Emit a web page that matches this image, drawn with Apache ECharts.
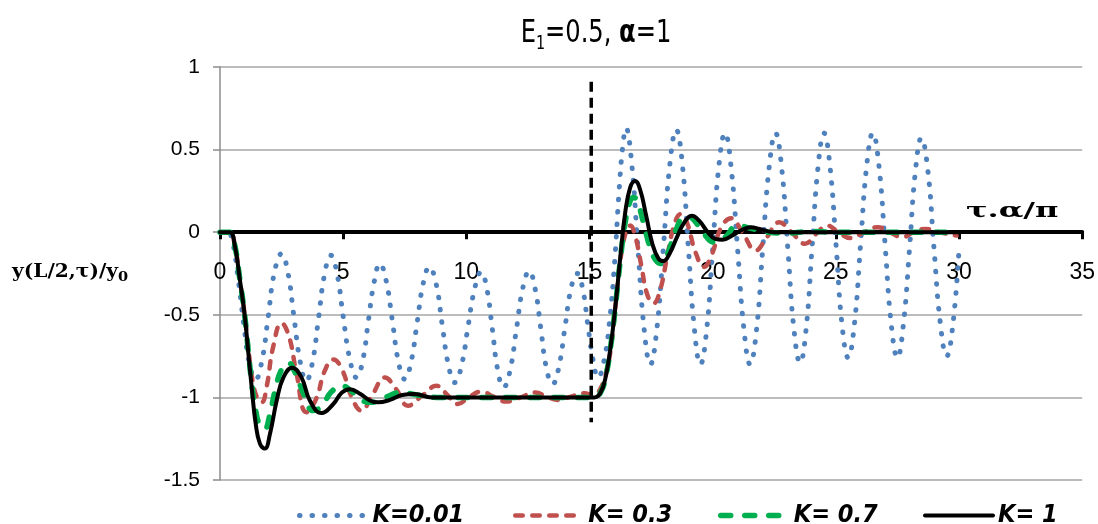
<!DOCTYPE html>
<html>
<head>
<meta charset="utf-8">
<script src="https://cdn.jsdelivr.net/npm/echarts@6/dist/echarts.min.js"></script>
<style>
  html, body { margin: 0; padding: 0; background: #fff; }
  #chart { width: 1098px; height: 524px; }
</style>
</head>
<body>
<div id="chart"></div>
<script>
// Series names shown in the legend
const seriesNames = ['K=0.01', 'K= 0.3', 'K= 0.7', 'K= 1'];

// Axis ranges / tick spacing
const xRange = [0, 35, 5];
const yRange = [-1.5, 1, 0.5];

// Time of the load switch and vertical extent of its marker line
const switchTau = 15.07;
const switchSpan = [0.91, -1.15];

// K = 0.01 : [tau, y]
const k001 = [
  [0, 0], [0.3, 0], [0.5, -0.05], [0.75, -0.3], [1.0, -0.6], [1.2, -0.8], [1.45, -0.89],
  [1.7, -0.78], [1.95, -0.52], [2.2, -0.25], [2.5, -0.13], [2.75, -0.24], [3.0, -0.51], [3.25, -0.78], [3.5, -0.9],
  [3.75, -0.79], [4.0, -0.52], [4.25, -0.25], [4.5, -0.14], [4.75, -0.25], [5.0, -0.51], [5.27, -0.77], [5.54, -0.88],
  [5.79, -0.78], [6.02, -0.54], [6.26, -0.3], [6.49, -0.19], [6.74, -0.29], [7.0, -0.54], [7.25, -0.79], [7.5, -0.89],
  [7.75, -0.79], [8.0, -0.55], [8.25, -0.31], [8.5, -0.21], [8.77, -0.31], [9.02, -0.56], [9.28, -0.81], [9.53, -0.91],
  [9.8, -0.81], [10.07, -0.57], [10.34, -0.34], [10.6, -0.24], [10.83, -0.34], [11.05, -0.58], [11.28, -0.84], [11.51, -0.94],
  [11.77, -0.84], [12.03, -0.59], [12.29, -0.34], [12.55, -0.235], [12.79, -0.34], [13.02, -0.58], [13.26, -0.83], [13.5, -0.92],
  [13.75, -0.82], [14.0, -0.58], [14.25, -0.34], [14.5, -0.25], [14.72, -0.34], [14.93, -0.56], [15.14, -0.77], [15.35, -0.88],
  [15.6, -0.77], [15.82, -0.53], [16.02, -0.18], [16.2, 0.25], [16.35, 0.52], [16.48, 0.63],
  [16.71, 0.42], [16.96, -0.085], [17.22, -0.59], [17.47, -0.8],
  [17.73, -0.59], [18.0, -0.09], [18.26, 0.41], [18.52, 0.62],
  [18.77, 0.41], [19.01, -0.09], [19.26, -0.59], [19.5, -0.8],
  [19.75, -0.6], [20.0, -0.1], [20.25, 0.4], [20.5, 0.6],
  [20.75, 0.39], [21.01, -0.1], [21.27, -0.59], [21.52, -0.8],
  [21.78, -0.59], [22.03, -0.1], [22.29, 0.39], [22.55, 0.6],
  [22.8, 0.39], [23.05, -0.1], [23.3, -0.59], [23.55, -0.79],
  [23.79, -0.59], [24.03, -0.1], [24.28, 0.4], [24.52, 0.6],
  [24.76, 0.4], [25.01, -0.08], [25.25, -0.56], [25.5, -0.76],
  [25.75, -0.56], [26.0, -0.08], [26.25, 0.4], [26.5, 0.6],
  [26.75, 0.4], [27.0, -0.08], [27.25, -0.56], [27.5, -0.76],
  [27.74, -0.56], [27.99, -0.1], [28.23, 0.37], [28.47, 0.57],
  [28.73, 0.38], [28.98, -0.09], [29.24, -0.55], [29.5, -0.75],
  [29.75, -0.56], [30.0, -0.1]
];

// K = 0.3 : [tau, y]
const k03 = [
  [0, 0], [0.4, 0], [0.6, -0.08], [0.8, -0.28], [1.0, -0.5], [1.15, -0.7], [1.3, -0.88], [1.5, -1.0],
  [1.69, -1.03], [1.9, -0.93], [2.15, -0.7], [2.5, -0.55], [2.8, -0.63], [3.1, -0.85], [3.51, -1.09],
  [3.9, -1.01], [4.25, -0.84], [4.6, -0.77], [4.95, -0.83], [5.35, -1.0], [5.74, -1.08],
  [6.2, -0.98], [6.69, -0.88], [7.15, -0.95], [7.63, -1.05], [8.2, -0.99], [8.8, -0.93],
  [9.2, -0.98], [9.65, -1.04], [10.1, -1.0], [10.6, -0.965], [11.1, -0.995], [11.6, -1.025],
  [12.2, -1.0], [12.8, -0.97], [13.25, -0.995], [13.7, -1.015], [14.25, -0.995], [14.8, -0.975],
  [15.1, -0.985], [15.3, -0.975], [15.5, -0.93], [15.7, -0.84], [15.9, -0.66], [16.1, -0.38],
  [16.3, -0.12], [16.5, 0.01], [16.65, 0.04], [16.85, -0.02], [17.1, -0.2], [17.35, -0.38], [17.6, -0.43],
  [17.85, -0.36], [18.15, -0.15], [18.45, 0.05], [18.7, 0.11], [18.95, 0.06], [19.3, -0.12], [19.65, -0.21],
  [19.95, -0.14], [20.35, 0.03], [20.75, 0.085], [21.2, 0.0], [21.75, -0.11], [22.2, -0.03], [22.7, 0.06],
  [23.2, 0.0], [23.75, -0.07], [24.2, -0.01], [24.65, 0.04], [25.1, 0.0], [25.6, -0.035], [26.15, 0.0],
  [26.7, 0.03], [27.2, 0.0], [27.7, -0.03], [28.15, 0.0], [28.65, 0.02], [29.2, 0.0], [29.9, -0.02]
];

// K = 0.7 : [tau, y]
const k07 = [
  [0, 0], [0.4, 0], [0.6, -0.08], [0.8, -0.28], [1.0, -0.5], [1.15, -0.72], [1.3, -0.93], [1.45, -1.08],
  [1.62, -1.17], [1.82, -1.19], [2.0, -1.12], [2.25, -0.95], [2.5, -0.83], [2.77, -0.79], [3.05, -0.85],
  [3.4, -0.98], [3.78, -1.08], [4.15, -1.05], [4.5, -0.97], [4.93, -0.93], [5.4, -0.97], [5.8, -1.02],
  [6.15, -1.03], [6.7, -1.0], [7.36, -0.97], [8.0, -0.985], [8.8, -1.0], [12.0, -1.0], [15.2, -1.0],
  [15.45, -0.97], [15.65, -0.88], [15.85, -0.7], [16.05, -0.45], [16.25, -0.17], [16.45, 0.06],
  [16.65, 0.19], [16.81, 0.21], [17.0, 0.16], [17.25, 0.02], [17.5, -0.11], [17.75, -0.18], [17.96, -0.19],
  [18.2, -0.12], [18.5, 0.01], [18.9, 0.1], [19.2, 0.08], [19.6, 0.0], [20.05, -0.06], [20.5, -0.03],
  [21.0, 0.04], [21.5, 0.025], [22.2, 0.0], [23.0, -0.005], [24.0, 0.005], [25.0, 0.0], [30.0, 0.0]
];

// K = 1 : [tau, y]
const k1 = [
  [0, 0], [0.4, 0], [0.6, -0.08], [0.8, -0.28], [1.0, -0.5], [1.15, -0.73], [1.3, -0.96], [1.45, -1.16],
  [1.62, -1.28], [1.82, -1.31], [2.03, -1.22], [2.3, -1.02], [2.57, -0.88], [2.93, -0.82], [3.31, -0.88],
  [3.65, -1.02], [4.12, -1.095], [4.6, -1.04], [4.95, -0.97], [5.27, -0.95], [5.7, -0.98], [6.1, -1.02],
  [6.42, -1.03], [6.9, -1.015], [7.4, -0.985], [7.9, -0.98], [8.6, -1.0], [12.0, -1.0], [15.2, -1.0],
  [15.45, -0.97], [15.65, -0.88], [15.85, -0.7], [16.05, -0.45], [16.25, -0.15], [16.45, 0.12],
  [16.65, 0.27], [16.85, 0.31], [17.05, 0.26], [17.3, 0.1], [17.55, -0.07], [17.8, -0.16], [18.0, -0.175],
  [18.25, -0.13], [18.55, -0.03], [18.85, 0.06], [19.15, 0.1], [19.45, 0.07], [19.8, 0.0], [20.1, -0.04],
  [20.4, -0.045], [20.8, -0.02], [21.2, 0.015], [21.55, 0.03], [21.9, 0.02], [22.5, 0.0], [30.0, 0.0]
];

const colors = ['#4F81BD', '#C0504D', '#00B050', '#000000'];
const legendLeft = [292, 508, 713, 918];

const narrow = "'Liberation Sans Narrow','DejaVu Sans Condensed','Arial Narrow',sans-serif";
const plain = "'Liberation Sans',Arial,sans-serif";
const serif = "'DejaVu Serif','Liberation Serif',serif";

const lineStyles = [
  { color: colors[0], width: 5, type: [0.5, 12], cap: 'round' },
  { color: colors[1], width: 4.5, type: [7.5, 9.5], cap: 'round' },
  { color: colors[2], width: 5.5, type: [10, 14], cap: 'round' },
  { color: colors[3], width: 4, type: 'solid', cap: 'round' }
];
const seriesData = [k001, k03, k07, k1];

const chart = echarts.init(document.getElementById('chart'), null, { renderer: 'canvas' });

const series = seriesData.map((d, i) => ({
  name: seriesNames[i],
  type: 'line',
  data: d,
  symbol: 'none',
  smooth: 0.45,
  lineStyle: lineStyles[i],
  itemStyle: { color: colors[i] },
  z: 2 + i,
  animation: false
}));

// vertical dashed marker at the switching time
series.push({
  name: 'switch',
  type: 'line',
  data: [[switchTau, switchSpan[0]], [switchTau, switchSpan[1]]],
  symbol: 'none',
  lineStyle: { color: '#000', width: 3.5, type: [10, 6] },
  silent: true,
  z: 10,
  animation: false
});

const legends = seriesNames.map((n, i) => ({
  data: [n],
  left: legendLeft[i],
  top: 498,
  itemWidth: 68,
  itemHeight: 14,
  itemGap: 0,
  itemStyle: { opacity: 0, borderWidth: 0 },
  lineStyle: { width: lineStyles[i].width },
  textStyle: {
    fontFamily: narrow, fontSize: 25, fontWeight: 'bold', fontStyle: 'italic', color: '#000'
  }
}));

const option = {
  animation: false,
  backgroundColor: '#fff',
  grid: { left: 220, right: 13, top: 67, bottom: 44 },
  xAxis: {
    type: 'value',
    min: xRange[0], max: xRange[1], interval: xRange[2],
    axisLine: { onZero: true, lineStyle: { color: '#000', width: 4 } },
    axisTick: { show: true, length: 7, lineStyle: { color: '#000', width: 3 } },
    // tick labels sit just under the zero line
    axisLabel: { margin: -219, fontSize: 23, color: '#000', fontFamily: plain },
    splitLine: { show: false }
  },
  yAxis: {
    type: 'value',
    min: yRange[0], max: yRange[1], interval: yRange[2],
    axisLine: { show: true, onZero: false, lineStyle: { color: '#8c8c8c', width: 1.5 } },
    axisTick: { show: true, length: 7, lineStyle: { color: '#8c8c8c', width: 1.5 } },
    axisLabel: { margin: 20, fontSize: 21, color: '#000', fontFamily: plain },
    splitLine: { show: true, lineStyle: { color: '#a6a6a6', width: 1.5 } }
  },
  legend: legends,
  series: series,
  graphic: [
    {
      type: 'text', x: 596, y: 34, z: 20, scaleX: 0.84,
      style: {
        text: '{t|E}{s|1}{t|=0.5, }{a|α}{t|=1}',
        align: 'center', verticalAlign: 'middle',
        rich: {
          t: { fontFamily: narrow, fontSize: 32, lineHeight: 40, fill: '#000' },
          a: { fontFamily: narrow, fontSize: 32, lineHeight: 40, fontWeight: 'bold', fill: '#000' },
          s: { fontFamily: narrow, fontSize: 19, lineHeight: 19, verticalAlign: 'bottom', fill: '#000' }
        }
      }
    },
    {
      type: 'text', x: 12, y: 272, z: 20, scaleX: 1.12,
      style: {
        text: '{n|y(L/2,τ)/y}{s|0}',
        align: 'left', verticalAlign: 'middle',
        rich: {
          n: { fontFamily: serif, fontSize: 18, fontWeight: 'bold', lineHeight: 24, fill: '#000' },
          s: { fontFamily: serif, fontSize: 13, fontWeight: 'bold', lineHeight: 13, verticalAlign: 'bottom', fill: '#000' }
        }
      }
    },
    {
      type: 'text', x: 966, y: 212, z: 20, scaleX: 1.6,
      style: {
        text: 'τ.α/π',
        align: 'left', verticalAlign: 'middle',
        fontFamily: serif, fontSize: 20, fontWeight: 'bold', fill: '#000'
      }
    }
  ]
};

chart.setOption(option);
</script>
</body>
</html>
